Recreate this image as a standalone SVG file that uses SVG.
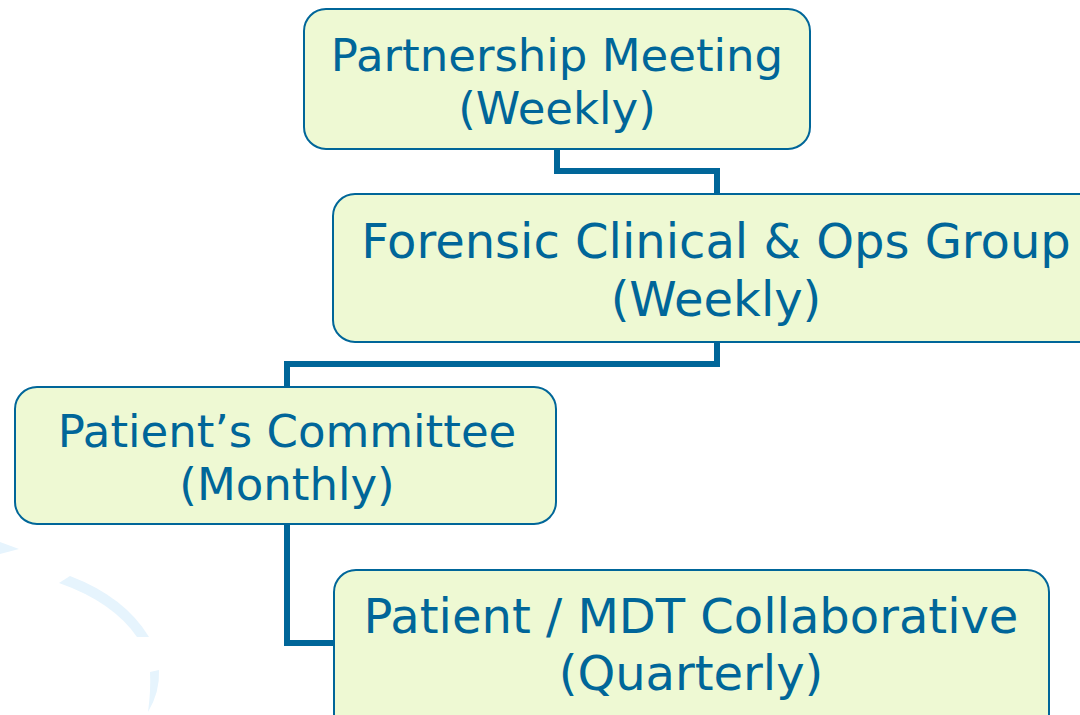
<svg xmlns="http://www.w3.org/2000/svg" width="1080" height="715" viewBox="0 0 1080 715">
  <style>
    .box { fill: #EEF9D3; stroke: #006699; stroke-width: 2; }
    .lbl { font-family: "DejaVu Sans", Verdana, sans-serif; fill: #006699; text-anchor: middle; }
    .conn { fill: none; stroke: #006699; stroke-width: 6; stroke-linejoin: miter; }
    .deco { fill: #E6F4FD; stroke: none; }
  </style>
  <rect width="1080" height="715" fill="#FFFFFF"/>
  <g id="decoration">
    <polygon class="deco" points="0,542 19,549 0,554"/>
    <path class="deco" d="M70,576 Q125,597 149,637 L137,637 Q113,602 59,583 Z"/>
    <path class="deco" d="M150,672 L159,670 Q160,692 148,712 Q151,690 150,672 Z"/>
  </g>
  <g id="connectors">
    <polyline class="conn" points="557,149 557,171 717,171 717,194"/>
    <polyline class="conn" points="717,342 717,364 287,364 287,387"/>
    <polyline class="conn" points="287,524 287,643 334,643"/>
  </g>
  <g id="partnership">
    <rect class="box" x="304" y="9" width="506" height="140" rx="22"/>
    <text class="lbl" x="557" y="71" font-size="45">Partnership Meeting</text>
    <text class="lbl" x="557" y="124" font-size="45">(Weekly)</text>
  </g>
  <g id="forensic">
    <rect class="box" x="333" y="194" width="768" height="148" rx="22"/>
    <text class="lbl" x="716" y="258" font-size="48">Forensic Clinical &amp; Ops Group</text>
    <text class="lbl" x="716" y="316" font-size="48">(Weekly)</text>
  </g>
  <g id="committee">
    <rect class="box" x="15" y="387" width="541" height="137" rx="22"/>
    <text class="lbl" x="287" y="447" font-size="45">Patient’s Committee</text>
    <text class="lbl" x="287" y="500" font-size="45">(Monthly)</text>
  </g>
  <g id="collaborative">
    <rect class="box" x="334" y="570" width="715" height="170" rx="22"/>
    <text class="lbl" x="691" y="633" font-size="48">Patient / MDT Collaborative</text>
    <text class="lbl" x="691" y="690" font-size="48">(Quarterly)</text>
  </g>
</svg>
